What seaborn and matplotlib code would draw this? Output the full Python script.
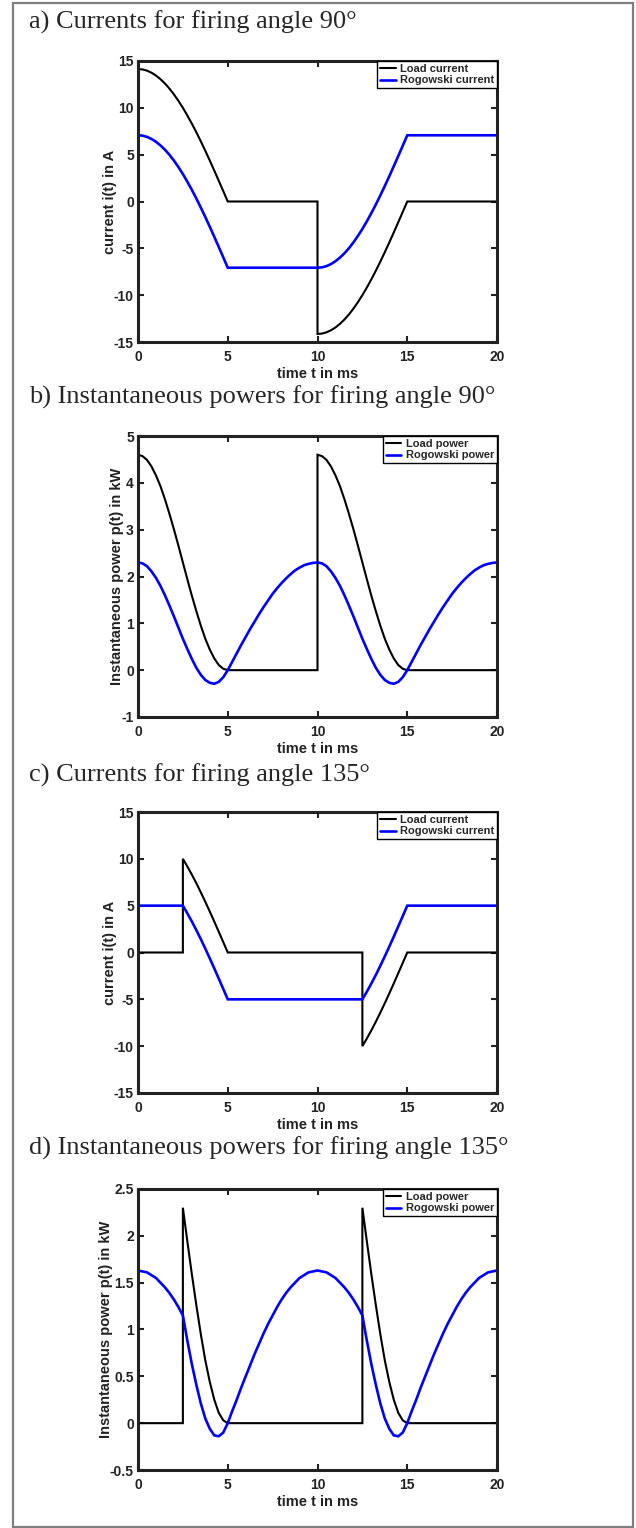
import numpy as np
import matplotlib
matplotlib.use("Agg")
import matplotlib.pyplot as plt
import seaborn as sns
from matplotlib.patches import Rectangle

# ---------------- data (time in ms) ----------------
T = np.round(np.arange(81) * 0.25, 2)                 # 0 ... 20 ms sample times
t_jump10 = np.concatenate([T[:41], T[40:]])           # vertical step at 10 ms
t_jump25 = np.concatenate([T[:11], T[10:51], T[50:]]) # vertical steps at 2.5 / 12.5 ms

x_ticks = [0, 5, 10, 15, 20]
x_labels = ["0", "5", "10", "15", "20"]

# a) currents, firing angle 90 deg
load_current_90 = ([14.14, 14.10, 13.97, 13.75, 13.45, 13.06, 12.60, 12.06, 11.44, 10.75, 10.00,
                    9.18, 8.31, 7.39, 6.42, 5.41, 4.37, 3.30, 2.21, 1.11, 0.00]
                   + [0.0] * 20
                   + [-14.14, -14.10, -13.97, -13.75, -13.45, -13.06, -12.60, -12.06, -11.44, -10.75, -10.00,
                      -9.18, -8.31, -7.39, -6.42, -5.41, -4.37, -3.30, -2.21, -1.11, 0.00]
                   + [0.0] * 20)
rogowski_current_90 = ([7.07, 7.03, 6.90, 6.68, 6.38, 5.99, 5.53, 4.99, 4.37, 3.68, 2.93,
                        2.11, 1.24, 0.32, -0.65, -1.66, -2.70, -3.77, -4.86, -5.96, -7.07]
                       + [-7.07] * 20
                       + [-7.03, -6.90, -6.68, -6.38, -5.99, -5.53, -4.99, -4.37, -3.68, -2.93,
                          -2.11, -1.24, -0.32, 0.65, 1.66, 2.70, 3.77, 4.86, 5.96, 7.07]
                       + [7.07] * 20)

# b) instantaneous powers, firing angle 90 deg (kW)
load_power_90 = ([4.60, 4.57, 4.49, 4.35, 4.16, 3.93, 3.65, 3.34, 3.01, 2.66, 2.30,
                  1.94, 1.59, 1.26, 0.95, 0.67, 0.44, 0.25, 0.11, 0.03, 0.00]
                 + [0.0] * 20
                 + [4.60, 4.57, 4.49, 4.35, 4.16, 3.93, 3.65, 3.34, 3.01, 2.66, 2.30,
                    1.94, 1.59, 1.26, 0.95, 0.67, 0.44, 0.25, 0.11, 0.03, 0.00]
                 + [0.0] * 20)
rogowski_power_90 = ([2.30, 2.28, 2.22, 2.11, 1.97, 1.80, 1.60, 1.38, 1.15, 0.91, 0.67,
                      0.45, 0.24, 0.05, -0.10, -0.21, -0.27, -0.29, -0.25, -0.15, 0.00]
                     + [0.18, 0.36, 0.54, 0.71, 0.88, 1.04, 1.20, 1.35, 1.49, 1.63,
                        1.75, 1.86, 1.96, 2.05, 2.13, 2.19, 2.24, 2.27, 2.29, 2.30]
                     + [2.28, 2.22, 2.11, 1.97, 1.80, 1.60, 1.38, 1.15, 0.91, 0.67,
                        0.45, 0.24, 0.05, -0.10, -0.21, -0.27, -0.29, -0.25, -0.15, 0.00]
                     + [0.18, 0.36, 0.54, 0.71, 0.88, 1.04, 1.20, 1.35, 1.49, 1.63,
                        1.75, 1.86, 1.96, 2.05, 2.13, 2.19, 2.24, 2.27, 2.29, 2.30])

# c) currents, firing angle 135 deg
load_current_135 = ([0.0] * 11
                    + [10.00, 9.18, 8.31, 7.39, 6.42, 5.41, 4.37, 3.30, 2.21, 1.11, 0.00]
                    + [0.0] * 30
                    + [-10.00, -9.18, -8.31, -7.39, -6.42, -5.41, -4.37, -3.30, -2.21, -1.11, 0.00]
                    + [0.0] * 20)
rogowski_current_135 = ([5.00] * 10
                        + [5.00, 4.18, 3.31, 2.39, 1.42, 0.41, -0.63, -1.70, -2.79, -3.89, -5.00]
                        + [-5.00] * 29
                        + [-5.00, -4.18, -3.31, -2.39, -1.42, -0.41, 0.63, 1.70, 2.79, 3.89, 5.00]
                        + [5.00] * 20)

# d) instantaneous powers, firing angle 135 deg (kW)
load_power_135 = ([0.0] * 11
                  + [2.30, 1.94, 1.59, 1.26, 0.95, 0.67, 0.44, 0.25, 0.11, 0.03, 0.00]
                  + [0.0] * 30
                  + [2.30, 1.94, 1.59, 1.26, 0.95, 0.67, 0.44, 0.25, 0.11, 0.03, 0.00]
                  + [0.0] * 20)
rogowski_power_135 = ([1.63, 1.62, 1.61, 1.58, 1.55, 1.50, 1.45, 1.39, 1.32, 1.24, 1.15]
                      + [0.88, 0.63, 0.41, 0.21, 0.05, -0.06, -0.13, -0.14, -0.10, 0.00]
                      + [0.13, 0.25, 0.38, 0.50, 0.62, 0.74, 0.85, 0.96, 1.06, 1.15,
                         1.24, 1.32, 1.39, 1.45, 1.50, 1.55, 1.58, 1.61, 1.62, 1.63]
                      + [1.62, 1.61, 1.58, 1.55, 1.50, 1.45, 1.39, 1.32, 1.24, 1.15]
                      + [0.88, 0.63, 0.41, 0.21, 0.05, -0.06, -0.13, -0.14, -0.10, 0.00]
                      + [0.13, 0.25, 0.38, 0.50, 0.62, 0.74, 0.85, 0.96, 1.06, 1.15,
                         1.24, 1.32, 1.39, 1.45, 1.50, 1.55, 1.58, 1.61, 1.62, 1.63])

titles = ["a) Currents for firing angle 90°",
          "b) Instantaneous powers for firing angle 90°",
          "c) Currents for firing angle 135°",
          "d) Instantaneous powers for firing angle 135°"]

# ---------------- style ----------------
sns.set_theme(style="white")
plt.rcParams["font.family"] = ["Liberation Sans", "DejaVu Sans"]
plt.rcParams["axes.unicode_minus"] = False

W, H = 636, 1528
fig = plt.figure(figsize=(W / 100, H / 100), dpi=100)
fig.patch.set_facecolor("white")

# outer frame
fig.patches.append(Rectangle((13 / W, 1 - 1527 / H), 620 / W, 1524 / H,
                             transform=fig.transFigure, fill=False,
                             edgecolor="#7f7f7f", linewidth=1.6))

ax_left, ax_w, ax_h = 138 / W, 359 / W, 281 / H
ax_tops = [61, 436, 812, 1189]
title_y = [22, 397, 775, 1148]

panels = [
    dict(t_load=t_jump10, load=load_current_90, rog=rogowski_current_90,
         lab=("Load current", "Rogowski current"), ylim=(-15, 15),
         yt=[-15, -10, -5, 0, 5, 10, 15], ytl=["-15", "-10", "-5", "0", "5", "10", "15"],
         ylabel="current i(t) in A"),
    dict(t_load=t_jump10, load=load_power_90, rog=rogowski_power_90,
         lab=("Load power", "Rogowski power"), ylim=(-1, 5),
         yt=[-1, 0, 1, 2, 3, 4, 5], ytl=["-1", "0", "1", "2", "3", "4", "5"],
         ylabel="Instantaneous power p(t) in kW"),
    dict(t_load=t_jump25, load=load_current_135, rog=rogowski_current_135,
         lab=("Load current", "Rogowski current"), ylim=(-15, 15),
         yt=[-15, -10, -5, 0, 5, 10, 15], ytl=["-15", "-10", "-5", "0", "5", "10", "15"],
         ylabel="current i(t) in A"),
    dict(t_load=t_jump25, load=load_power_135, rog=rogowski_power_135,
         lab=("Load power", "Rogowski power"), ylim=(-0.5, 2.5),
         yt=[-0.5, 0, 0.5, 1, 1.5, 2, 2.5], ytl=["-0.5", "0", "0.5", "1", "1.5", "2", "2.5"],
         ylabel="Instantaneous power p(t) in kW"),
]

for i, p in enumerate(panels):
    bottom = 1 - (ax_tops[i] + 281) / H
    ax = fig.add_axes([ax_left, bottom, ax_w, ax_h])
    fig.text(29 / W, 1 - title_y[i] / H, titles[i], fontsize=19,
             family=["Liberation Serif", "DejaVu Serif"], ha="left", va="center")

    sns.lineplot(x=p["t_load"], y=p["load"], ax=ax, color="black", linewidth=1.5,
                 sort=False, estimator=None, label=p["lab"][0])
    sns.lineplot(x=T, y=p["rog"], ax=ax, color="#0000ff", linewidth=1.9,
                 sort=False, estimator=None, label=p["lab"][1])
    for ln in ax.get_lines():
        ln.set_solid_joinstyle("miter")

    ax.set_xlim(0, 20)
    ax.set_ylim(*p["ylim"])
    ax.set_xticks(x_ticks)
    ax.set_xticklabels(x_labels)
    ax.set_yticks(p["yt"])
    ax.set_yticklabels(p["ytl"])
    ax.tick_params(axis="both", direction="in", length=4, width=1.5, top=True, right=True,
                   bottom=True, left=True, labelsize=10, colors="#222222")
    ax.tick_params(axis="x", pad=6)
    ax.tick_params(axis="y", pad=3)
    for lbl in ax.get_xticklabels() + ax.get_yticklabels():
        lbl.set_fontweight("bold")
    for s in ax.spines.values():
        s.set_visible(True)
        s.set_linewidth(2.2)
        s.set_color("#222222")
    ax.set_xlabel("time t in ms", fontsize=10.5, fontweight="bold", labelpad=2, color="#222222")
    ax.set_ylabel(p["ylabel"], fontsize=10.5, fontweight="bold", labelpad=-2, color="#222222")
    ax.grid(False)

    leg = ax.legend(loc="upper right", borderaxespad=0, fancybox=False, framealpha=1,
                    edgecolor="black", prop={"weight": "bold", "size": 8},
                    handlelength=1.4, handletextpad=0.4, borderpad=0.25, labelspacing=0.15)
    leg.get_frame().set_linewidth(1.0)

fig.savefig("out.png", dpi=100, facecolor="white")
